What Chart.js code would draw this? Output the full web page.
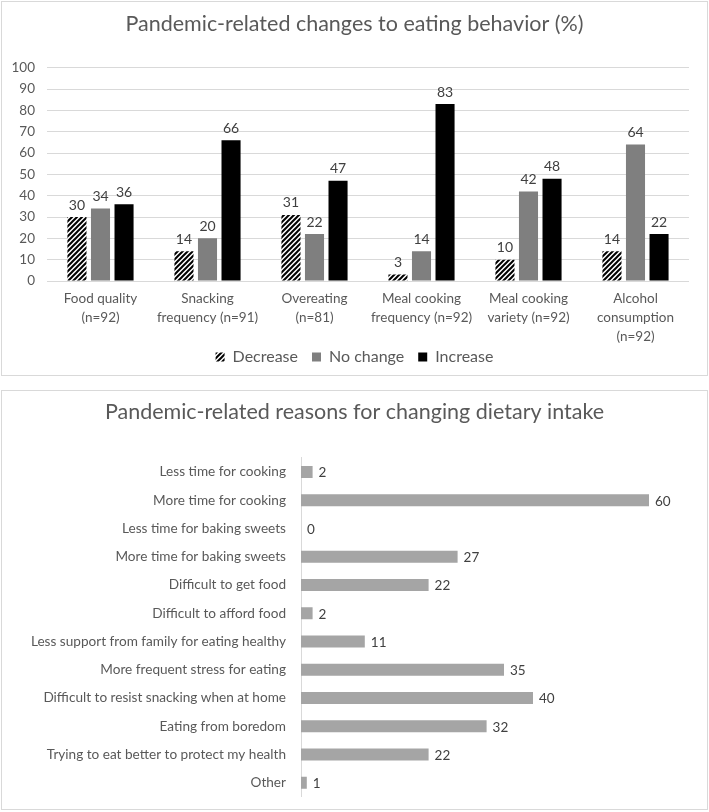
<!DOCTYPE html>
<html>
<head>
<meta charset="utf-8">
<script src="https://cdn.jsdelivr.net/npm/chart.js@4.4.1/dist/chart.umd.min.js"></script>
<style>
  body { margin: 0; background: #fff; }
  .panel { position: absolute; left: 1px; width: 705px; border: 1px solid #d9d9d9; background: #fff; overflow: hidden; }
  .panel canvas { display: block; }
  #topPanel { top: 1px; height: 373px; }
  #bottomPanel { top: 390px; height: 418px; }
</style>
</head>
<body>
<div class="panel" id="topPanel"><canvas id="changesChart" width="705" height="373"></canvas></div>
<div class="panel" id="bottomPanel"><canvas id="reasonsChart" width="705" height="429"></canvas></div>
<script>
// top chart data
const behaviorLabels = [
    ["Food quality", "(n=92)"],
    ["Snacking", "frequency (n=91)"],
    ["Overeating", "(n=81)"],
    ["Meal cooking", "frequency (n=92)"],
    ["Meal cooking", "variety (n=92)"],
    ["Alcohol", "consumption", "(n=92)"]
];
const decreaseValues = [30, 14, 31, 3, 10, 14];
const noChangeValues = [34, 20, 22, 14, 42, 64];
const increaseValues = [36, 66, 47, 83, 48, 22];
const seriesNames = ["Decrease", "No change", "Increase"];

// bottom chart data
const reasonLabels = [
    "Less time for cooking",
    "More time for cooking",
    "Less time for baking sweets",
    "More time for baking sweets",
    "Difficult to get food",
    "Difficult to afford food",
    "Less support from family for eating healthy",
    "More frequent stress for eating",
    "Difficult to resist snacking when at home",
    "Eating from boredom",
    "Trying to eat better to protect my health",
    "Other"
];
const reasonValues = [2, 60, 0, 27, 22, 2, 11, 35, 40, 32, 22, 1];

const textColor = "#595959";
const fontFamily = "Lato, 'Open Sans', sans-serif";

Chart.defaults.font.family = fontFamily;
Chart.defaults.color = textColor;

function makeHatch() {
    const c = document.createElement("canvas");
    c.width = 5;
    c.height = 5;
    const g = c.getContext("2d");
    g.fillStyle = "#fff";
    g.fillRect(0, 0, 5, 5);
    g.strokeStyle = "#000";
    g.lineWidth = 2;
    g.beginPath();
    g.moveTo(0, 5); g.lineTo(5, 0);
    g.moveTo(-3, 3); g.lineTo(3, -3);
    g.moveTo(2, 8); g.lineTo(8, 2);
    g.stroke();
    return g.createPattern(c, "repeat");
}

// draws the value next to each bar
const valueLabels = {
    id: "valueLabels",
    afterDatasetsDraw(chart) {
        const ctx = chart.ctx;
        const horizontal = chart.options.indexAxis === "y";
        ctx.save();
        ctx.font = (horizontal ? "13.5px " : "14px ") + fontFamily;
        ctx.fillStyle = "#404040";
        chart.data.datasets.forEach((ds, i) => {
            chart.getDatasetMeta(i).data.forEach((bar, j) => {
                const v = ds.data[j];
                if (horizontal) {
                    ctx.textAlign = "left";
                    ctx.textBaseline = "middle";
                    ctx.fillText(v, bar.x + 6, bar.y + 1);
                } else {
                    ctx.textAlign = "center";
                    ctx.textBaseline = "bottom";
                    ctx.fillText(v, bar.x, bar.y - 5);
                }
            });
        });
        ctx.restore();
    }
};

document.addEventListener("DOMContentLoaded", function () {
    const hatch = makeHatch();

    new Chart(document.getElementById("changesChart"), {
        type: "bar",
        data: {
            labels: behaviorLabels,
            datasets: [
                { label: seriesNames[0], data: decreaseValues, backgroundColor: hatch },
                { label: seriesNames[1], data: noChangeValues, backgroundColor: "#7f7f7f" },
                { label: seriesNames[2], data: increaseValues, backgroundColor: "#000000" }
            ]
        },
        options: {
            responsive: false,
            animation: false,
            categoryPercentage: 0.66,
            barPercentage: 0.81,
            layout: { padding: 0 },
            scales: {
                x: {
                    grid: { display: false, drawTicks: false },
                    border: { display: false },
                    ticks: { font: { size: 13.5, lineHeight: 1.4 }, color: textColor, padding: 8, maxRotation: 0, autoSkip: false },
                    afterFit(scale) {
                        scale.height = 54;
                        // let the third label line run past the scale box
                        scale._computeLabelArea = function () {};
                    }
                },
                y: {
                    min: 0,
                    max: 100,
                    ticks: { stepSize: 10, autoSkip: false, font: { size: 13.5 }, color: textColor, padding: 12 },
                    grid: { color: "#d9d9d9", drawTicks: false },
                    border: { display: false },
                    afterFit(scale) { scale.width = 45; }
                },
                // empty right margin
                yRight: {
                    position: "right",
                    grid: { display: false, drawTicks: false },
                    border: { display: false },
                    ticks: { display: false },
                    afterFit(scale) { scale.width = 18; }
                }
            },
            plugins: {
                title: {
                    display: true,
                    text: "Pandemic-related changes to eating behavior (%)",
                    color: textColor,
                    font: { size: 21.5, weight: "normal" },
                    padding: { top: 9, bottom: 31 }
                },
                legend: {
                    position: "bottom",
                    labels: { boxWidth: 9, boxHeight: 9, padding: 14, font: { size: 16 }, color: textColor }
                },
                tooltip: { enabled: false }
            }
        },
        plugins: [valueLabels]
    });

    new Chart(document.getElementById("reasonsChart"), {
        type: "bar",
        data: {
            labels: reasonLabels,
            datasets: [{ label: "Reasons", data: reasonValues, backgroundColor: "#a5a5a5" }]
        },
        options: {
            indexAxis: "y",
            responsive: false,
            animation: false,
            categoryPercentage: 1,
            barPercentage: 0.425,
            layout: { padding: 0 },
            scales: {
                x: { display: false, min: 0, max: 70 },
                y: {
                    grid: { display: false, drawTicks: false },
                    border: { display: true, color: "#d9d9d9" },
                    ticks: { font: { size: 13.6 }, color: textColor, padding: 15, autoSkip: false },
                    afterFit(scale) { scale.width = 299; }
                }
            },
            plugins: {
                title: {
                    display: true,
                    text: "Pandemic-related reasons for changing dietary intake",
                    color: textColor,
                    font: { size: 21.5, weight: "normal" },
                    padding: { top: 8, bottom: 33 }
                },
                legend: { display: false },
                tooltip: { enabled: false }
            }
        },
        plugins: [valueLabels]
    });
});
</script>
</body>
</html>
